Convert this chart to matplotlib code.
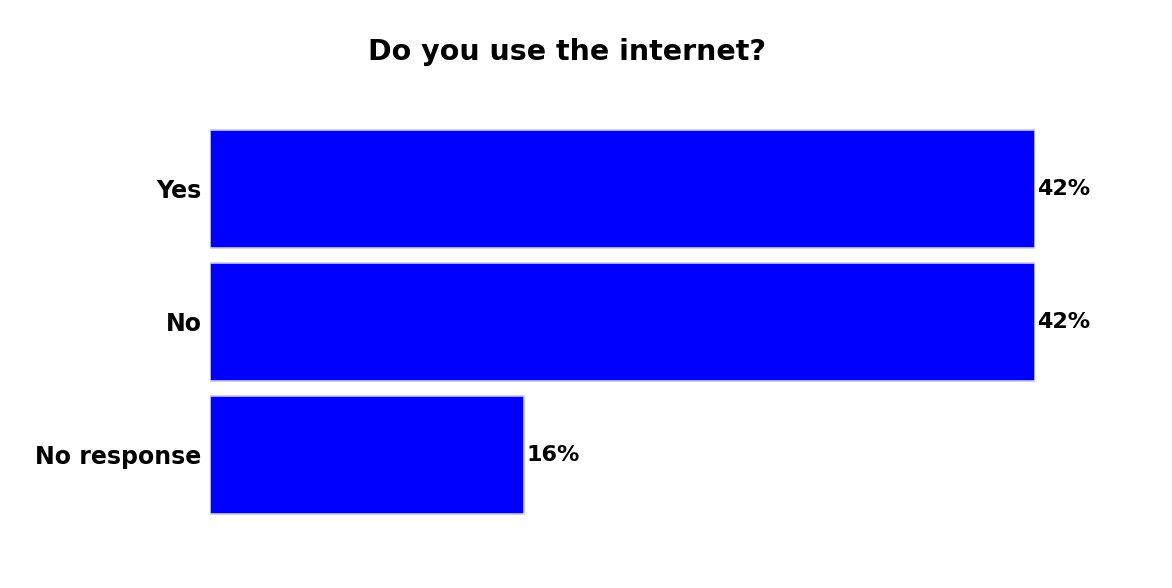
import matplotlib.pyplot as plt

# survey answers, top to bottom
CATEGORIES = ["Yes", "No", "No response"]
PERCENTS = [42, 42, 16]
TITLE = "Do you use the internet?"

plt.rcParams['font.family'] = ['DejaVu Sans']

fig = plt.figure(figsize=(11.72, 5.88), dpi=100)
ax = fig.add_axes([0.1792, 0.1131, 0.7039, 0.6786])

ypos = list(range(len(CATEGORIES)))
ax.barh(ypos, PERCENTS, height=0.89, color="#0000ff",
        edgecolor="#c8c8ff", linewidth=1.2)

for y, v in zip(ypos, PERCENTS):
    ax.text(v + 0.1, y, f"{v}%", va="center", ha="left",
            fontsize=16, fontweight="bold", clip_on=False)

ax.set_yticks(ypos)
ax.set_yticklabels(CATEGORIES, fontsize=17, fontweight="bold")
ax.tick_params(axis="y", length=0, pad=6)
ax.set_xticks([])
ax.set_xlim(0, 42)
ax.set_ylim(len(CATEGORIES) - 0.5, -0.5)
for s in ax.spines.values():
    s.set_visible(False)

fig.text(0.484, 0.912, TITLE, ha="center", va="center",
         fontsize=20.5, fontweight="bold")

fig.savefig("out.png", dpi=100, facecolor="white")
